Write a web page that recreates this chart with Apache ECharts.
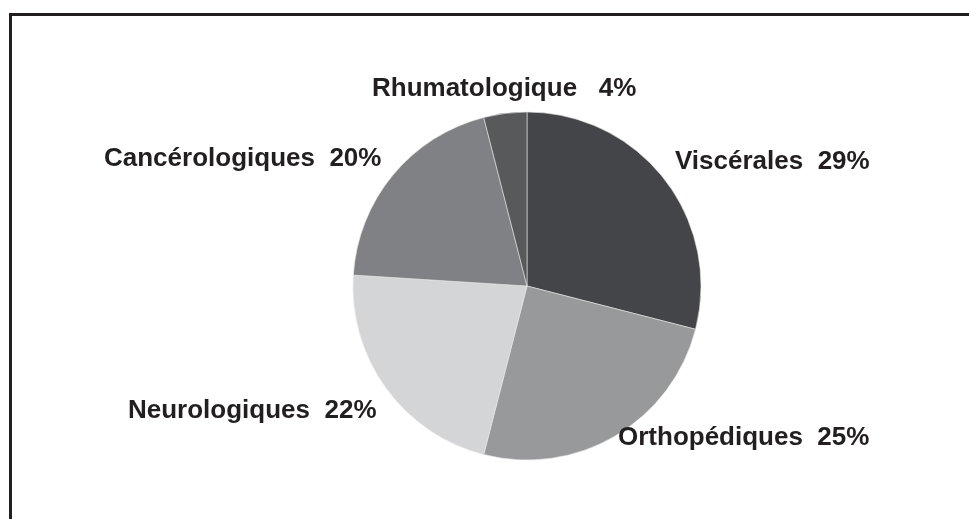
<!DOCTYPE html>
<html>
<head>
<meta charset="utf-8">
<script src="https://cdn.jsdelivr.net/npm/echarts@6/dist/echarts.min.js"></script>
<style>
  html, body { margin: 0; padding: 0; background: #fff; }
  #chart { width: 969px; height: 519px; }
</style>
</head>
<body>
<div id="chart"></div>
<script>
// categories and share (%), clockwise from 12 o'clock
var categories = ['Viscérales', 'Orthopédiques', 'Neurologiques', 'Cancérologiques', 'Rhumatologique'];
var values = [29, 25, 22, 20, 4];
var colors = ['#444548', '#98999b', '#d4d5d6', '#808184', '#58595b'];

// where each label sits (left edge, vertical middle)
var labelPos = {
    'Viscérales': [675, 162, '  '],
    'Orthopédiques': [618, 438, '  '],
    'Neurologiques': [128, 411, '  '],
    'Cancérologiques': [104, 159, '  '],
    'Rhumatologique': [372, 89, '   ']
};

var myPie = echarts.init(document.getElementById('chart'));
myPie.setOption({
    animation: false,
    graphic: [{
        type: 'rect',
        shape: { x: 10.5, y: 14.5, width: 1000, height: 600 },
        style: { fill: 'none', stroke: '#231f20', lineWidth: 3 }
    }],
    series: [{
        type: 'pie',
        center: [527, 286],
        radius: 174,
        startAngle: 90,
        clockwise: true,
        data: categories.map(function (c, i) {
            return { name: c, value: values[i], itemStyle: { color: colors[i] } };
        }),
        itemStyle: { borderColor: '#e6e6e6', borderWidth: 0.6 },
        label: {
            show: true,
            position: 'outside',
            formatter: function (p) {
                return p.name + labelPos[p.name][2] + p.value + '%';
            },
            fontFamily: 'Liberation Sans, Arial, sans-serif',
            fontWeight: 'bold',
            fontSize: 26,
            color: '#231f20'
        },
        labelLine: { show: false },
        labelLayout: function (params) {
            var name = categories[params.dataIndex];
            var p = labelPos[name];
            return { x: p[0], y: p[1], align: 'left', verticalAlign: 'middle' };
        }
    }]
});
</script>
</body>
</html>
